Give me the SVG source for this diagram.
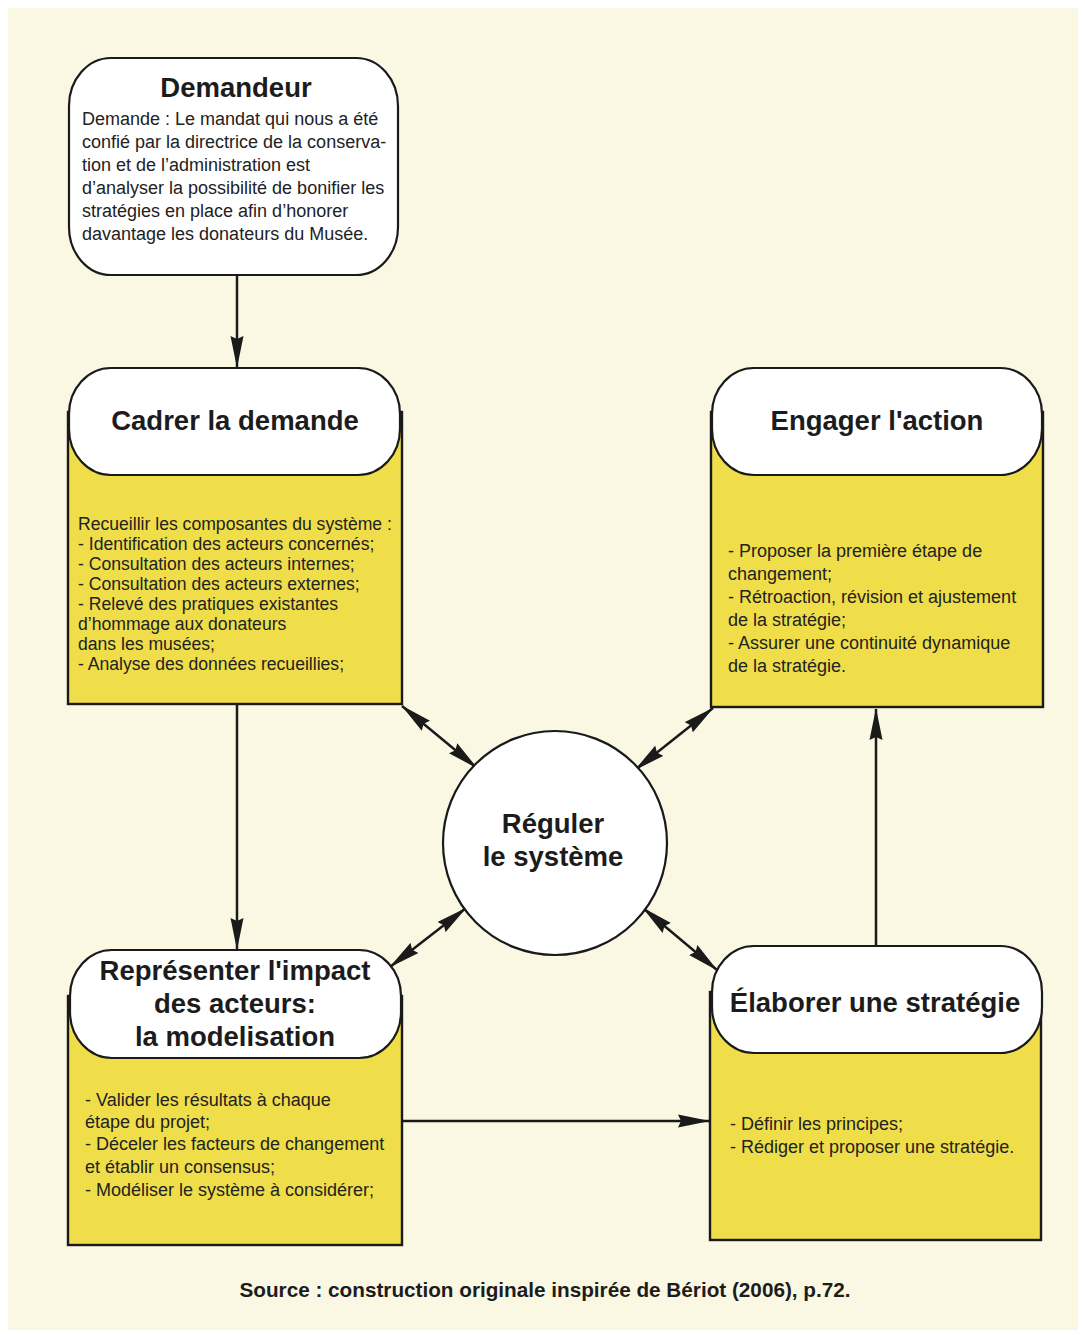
<svg xmlns="http://www.w3.org/2000/svg" width="1085" height="1335" viewBox="0 0 1085 1335">
<style>
.pill{fill:#ffffff;stroke:#1a1a1a;stroke-width:2.2}
.box{fill:#efde4a;stroke:#1a1a1a;stroke-width:2.4}
.title{font-family:"Liberation Sans",Arial,sans-serif;font-weight:bold;font-size:27.5px;fill:#1c1c1c;text-anchor:middle}
.body{font-family:"Liberation Sans",Arial,sans-serif;font-size:18px;fill:#222222}
.body2{font-family:"Liberation Sans",Arial,sans-serif;font-size:17.6px;fill:#222222}
.conn{fill:none;stroke:#1a1a1a;stroke-width:2.5}
.src{font-family:"Liberation Sans",Arial,sans-serif;font-weight:bold;font-size:21px;fill:#1c1c1c;text-anchor:middle}
</style>
<defs>
<marker id="ah" viewBox="0 0 32 14" refX="31" refY="7" markerWidth="32" markerHeight="14" markerUnits="userSpaceOnUse" orient="auto-start-reverse">
<path d="M0,0.5 L32,7 L0,13.5 L3,7 z" fill="#1a1a1a"/>
</marker>
</defs>
<rect x="0" y="0" width="1085" height="1335" fill="#ffffff"/>
<rect x="8" y="8" width="1070" height="1322" fill="#faf7e2"/>

<g id="connectors">
<line class="conn" x1="237" y1="275" x2="237" y2="367" marker-end="url(#ah)"/>
<line class="conn" x1="237" y1="705" x2="237" y2="949" marker-end="url(#ah)"/>
<line class="conn" x1="402" y1="1121" x2="709" y2="1121" marker-end="url(#ah)"/>
<line class="conn" x1="876" y1="945" x2="876" y2="709" marker-end="url(#ah)"/>
<line class="conn" x1="402" y1="706" x2="477" y2="768" marker-start="url(#ah)" marker-end="url(#ah)"/>
<line class="conn" x1="713" y1="708" x2="635" y2="770" marker-start="url(#ah)" marker-end="url(#ah)"/>
<line class="conn" x1="466" y1="908" x2="390" y2="967" marker-start="url(#ah)" marker-end="url(#ah)"/>
<line class="conn" x1="643" y1="908" x2="717" y2="970" marker-start="url(#ah)" marker-end="url(#ah)"/>
</g>

<g id="demandeur">
<rect class="pill" x="69" y="58" width="329" height="217" rx="42" ry="48"/>
<text class="title" x="236" y="97">Demandeur</text>
<text class="body" x="82" y="125">Demande : Le mandat qui nous a été</text>
<text class="body" x="82" y="148">confié par la directrice de la conserva-</text>
<text class="body" x="82" y="171">tion et de l’administration est</text>
<text class="body" x="82" y="194">d’analyser la possibilité de bonifier les</text>
<text class="body" x="82" y="217">stratégies en place afin d’honorer</text>
<text class="body" x="82" y="240">davantage les donateurs du Musée.</text>
</g>

<g id="cadrer">
<rect class="box" x="68" y="412" width="334" height="292"/>
<rect class="pill" x="69" y="368" width="331" height="107" rx="42" ry="46"/>
<text class="title" x="235" y="430">Cadrer la demande</text>
<text class="body2" x="78" y="530">Recueillir les composantes du système :</text>
<text class="body2" x="78" y="550">- Identification des acteurs concernés;</text>
<text class="body2" x="78" y="570">- Consultation des acteurs internes;</text>
<text class="body2" x="78" y="590">- Consultation des acteurs externes;</text>
<text class="body2" x="78" y="610">- Relevé des pratiques existantes</text>
<text class="body2" x="78" y="630">d’hommage aux donateurs</text>
<text class="body2" x="78" y="650">dans les musées;</text>
<text class="body2" x="78" y="670">- Analyse des données recueillies;</text>
</g>

<g id="engager">
<rect class="box" x="711" y="412" width="332" height="295"/>
<rect class="pill" x="712" y="368" width="330" height="107" rx="42" ry="46"/>
<text class="title" x="877" y="430">Engager l'action</text>
<text class="body" x="728" y="557">- Proposer la première étape de</text>
<text class="body" x="728" y="580">changement;</text>
<text class="body" x="728" y="603">- Rétroaction, révision et ajustement</text>
<text class="body" x="728" y="626">de la stratégie;</text>
<text class="body" x="728" y="649">- Assurer une continuité dynamique</text>
<text class="body" x="728" y="672">de la stratégie.</text>
</g>

<g id="reguler">
<circle cx="555" cy="843" r="112" fill="#ffffff" stroke="#1a1a1a" stroke-width="2.2"/>
<text class="title" x="553" y="833">Réguler</text>
<text class="title" x="553" y="866">le système</text>
</g>

<g id="representer">
<rect class="box" x="68" y="996" width="334" height="249"/>
<rect class="pill" x="70" y="950" width="331" height="108" rx="42" ry="46"/>
<text class="title" x="235" y="980">Représenter l'impact</text>
<text class="title" x="235" y="1013">des acteurs:</text>
<text class="title" x="235" y="1046">la modelisation</text>
<text class="body" x="85" y="1106">- Valider les résultats à chaque</text>
<text class="body" x="85" y="1128">étape du projet;</text>
<text class="body" x="85" y="1150">- Déceler les facteurs de changement</text>
<text class="body" x="85" y="1173">et établir un consensus;</text>
<text class="body" x="85" y="1196">- Modéliser le système à considérer;</text>
</g>

<g id="elaborer">
<rect class="box" x="710" y="992" width="331" height="248"/>
<rect class="pill" x="712" y="946" width="330" height="107" rx="42" ry="46"/>
<text class="title" x="875" y="1012">Élaborer une stratégie</text>
<text class="body" x="730" y="1130">- Définir les principes;</text>
<text class="body" x="730" y="1153">- Rédiger et proposer une stratégie.</text>
</g>

<text class="src" x="545" y="1297" textLength="611" lengthAdjust="spacingAndGlyphs">Source : construction originale inspirée de Bériot (2006), p.72.</text>
</svg>
